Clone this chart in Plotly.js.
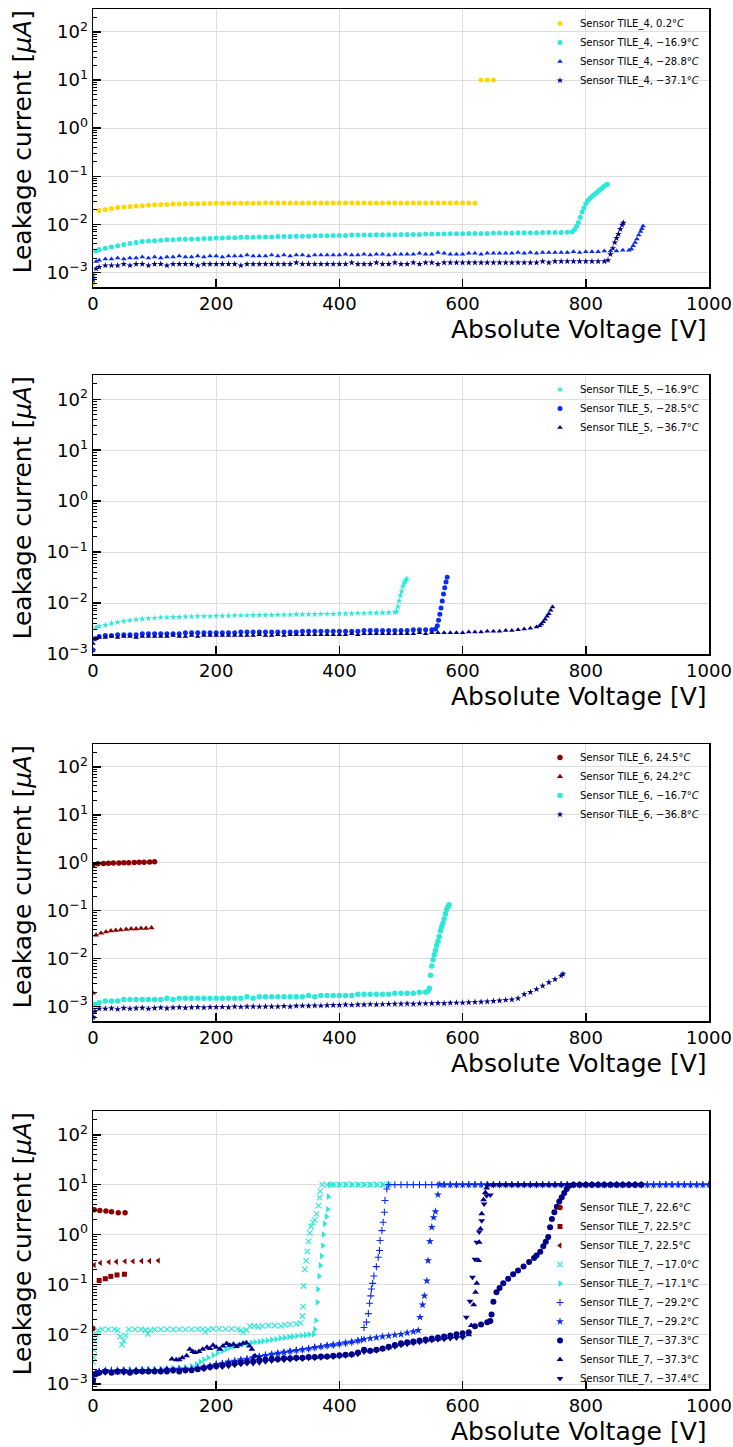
<!DOCTYPE html>
<html><head><meta charset="utf-8">
<script src="https://cdn.plot.ly/plotly-3.0.1.min.js"></script>
<style>html,body{margin:0;padding:0;background:#fff}#chart{width:733px;height:1447px}</style>
</head><body><div id="chart"></div>
<script>
// ---------------- tick labels ----------------
const xTickVals = [0,200,400,600,800,1000];
const xTickText = ['0','200','400','600','800','1000'];
const yTickVals = [0.001,0.01,0.1,1,10,100];
const yTickText = ['10<sup>\u22123</sup>','10<sup>\u22122</sup>','10<sup>\u22121</sup>','10<sup>0</sup>','10<sup>1</sup>','10<sup>2</sup>'];

// ---------------- panel 1 : TILE_4 ----------------
const t4a_v = [0,10,20,30,40,50,60,70,80,90,100,110,120,130,140,150,160,170,180,190,200,210,220,230,240,250,260,270,280,290,300,310,320,330,340,350,360,370,380,390,400,410,420,430,440,450,460,470,480,490,500,510,520,530,540,550,560,570,580,590,600,610,620,630,640,650];
const t4a_i = [0.0006,0.0195,0.0205,0.0215,0.0225,0.023,0.0235,0.024,0.0245,0.025,
0.0255,0.026,0.026,0.0265,0.0265,0.027,0.027,0.027,0.0272,0.0272,
0.0274,0.0274,0.0275,0.0275,0.0275,0.0276,0.0276,0.0276,0.0277,0.0277,
0.0277,0.0277,0.0278,0.0278,0.0278,0.0278,0.0278,0.0278,0.0279,0.0279,
0.0279,0.0279,0.0279,0.028,0.028,0.028,0.028,0.028,0.028,0.028,
0.028,0.028,0.028,0.028,0.028,0.028,0.028,0.028,0.028,0.028,
0.028,0.028,0.028,10,10,10];

const t4b_v = [0,5,10,20,30,40,50,60,70,80,90,
100,110,120,130,140,150,160,170,180,190,
200,210,220,230,240,250,260,270,280,290,
300,310,320,330,340,350,360,370,380,390,
400,410,420,430,440,450,460,470,480,490,
500,510,520,530,540,550,560,570,580,590,
600,610,620,630,640,650,660,670,680,690,
700,710,720,730,740,750,760,770,
778,782,785,788,791,794,797,800,803,806,809,812,815,818,821,824,827,830,833,835];
const t4b_i = [0.0009,0.0028,0.003,0.0032,0.0034,0.0036,0.0038,0.004,0.0042,0.0044,0.0045,
0.0046,0.0047,0.0048,0.0048,0.0049,0.0049,0.005,0.005,0.0051,0.0051,
0.0052,0.0052,0.0053,0.0053,0.0054,0.0054,0.0054,0.0055,0.0055,0.0055,
0.0056,0.0056,0.0056,0.0057,0.0057,0.0057,0.0058,0.0058,0.0058,0.0059,
0.0059,0.0059,0.006,0.006,0.006,0.006,0.0061,0.0061,0.0061,0.0061,
0.0062,0.0062,0.0062,0.0062,0.0063,0.0063,0.0063,0.0063,0.0064,0.0064,
0.0064,0.0065,0.0065,0.0065,0.0065,0.0066,0.0066,0.0066,0.0066,0.0067,
0.0067,0.0067,0.0067,0.0068,0.0068,0.0068,0.0068,0.0069,
0.007,0.0078,0.0092,0.011,0.014,0.018,0.022,0.027,0.031,0.034,0.037,0.04,0.043,0.046,0.05,0.054,0.058,0.062,0.066,0.068];

const t4c_v = [0,5,10,20,30,40,50,60,70,80,90,
100,110,120,130,140,150,160,170,180,190,
200,210,220,230,240,250,260,270,280,290,
300,310,320,330,340,350,360,370,380,390,
400,410,420,430,440,450,460,470,480,490,
500,510,520,530,540,550,560,570,580,590,
600,610,620,630,640,650,660,670,680,690,
700,710,720,730,740,750,760,770,780,790,
800,810,820,830,840,850,860,870,
874,877,880,883,886,889,891,893];
const t4c_i = [0.0008,0.0017,0.0018,0.0019,0.0019,0.002,0.0019,0.002,0.002,0.0021,0.002,
0.0021,0.002,0.0021,0.0021,0.0022,0.0021,0.0021,0.0022,0.0021,0.0022,
0.0022,0.0021,0.0022,0.0022,0.0022,0.0023,0.0022,0.0022,0.0022,0.0023,
0.0022,0.0023,0.0022,0.0023,0.0023,0.0022,0.0023,0.0023,0.0023,0.0023,
0.0023,0.0024,0.0023,0.0023,0.0024,0.0023,0.0024,0.0024,0.0023,0.0024,
0.0024,0.0024,0.0024,0.0025,0.0024,0.0024,0.0026,0.0025,0.0024,0.0024,
0.0024,0.0025,0.0025,0.0024,0.0025,0.0025,0.0025,0.0025,0.0025,0.0026,
0.0025,0.0026,0.0025,0.0026,0.0026,0.0026,0.0026,0.0026,0.0027,0.0026,
0.0027,0.0027,0.0027,0.0028,0.0028,0.0028,0.0029,0.0029,
0.0031,0.0036,0.0042,0.005,0.006,0.0071,0.0081,0.0093];

const t4d_v = [0,5,10,20,30,40,50,60,70,80,90,
100,110,120,130,140,150,160,170,180,190,
200,210,220,230,240,250,260,270,280,290,
300,310,320,330,340,350,360,370,380,390,
400,410,420,430,440,450,460,470,480,490,
500,510,520,530,540,550,560,570,580,590,
600,610,620,630,640,650,660,670,680,690,
700,710,720,730,740,750,760,770,780,790,
800,810,820,830,
836,840,844,847,850,853,856,859,861];
const t4d_i = [0.0007,0.0012,0.0013,0.0014,0.0014,0.0014,0.0015,0.0014,0.0015,0.0015,0.0014,
0.0015,0.0015,0.0014,0.0015,0.0015,0.0015,0.0015,0.0014,0.0015,0.0015,
0.0015,0.0015,0.0015,0.0015,0.0014,0.0015,0.0015,0.0015,0.0015,0.0015,
0.0015,0.0015,0.0015,0.0016,0.0015,0.0015,0.0015,0.0015,0.0015,0.0015,
0.0015,0.0015,0.0016,0.0015,0.0015,0.0015,0.0016,0.0015,0.0015,0.0016,
0.0015,0.0015,0.0016,0.0015,0.0016,0.0016,0.0015,0.0016,0.0016,0.0016,
0.0016,0.0016,0.0016,0.0016,0.0016,0.0016,0.0016,0.0016,0.0016,0.0016,
0.0016,0.0016,0.0016,0.0017,0.0016,0.0017,0.0017,0.0017,0.0017,0.0017,
0.0017,0.0017,0.0017,0.0017,
0.0018,0.0024,0.0032,0.0042,0.0052,0.0063,0.008,0.0098,0.0108];

// ---------------- panel 2 : TILE_5 ----------------
const t5a_v = [0,5,10,20,30,40,50,60,70,80,90,
100,110,120,130,140,150,160,170,180,190,
200,210,220,230,240,250,260,270,280,290,
300,310,320,330,340,350,360,370,380,390,
400,410,420,430,440,450,460,470,480,490,
493,495,497,499,501,503,505,507,509];
const t5a_i = [0.0012,0.0033,0.0035,0.0037,0.004,0.0042,0.0044,0.0046,0.0047,0.0049,0.005,
0.0051,0.0052,0.0052,0.0053,0.0053,0.0054,0.0054,0.0055,0.0055,0.0055,
0.0056,0.0056,0.0056,0.0057,0.0057,0.0057,0.0058,0.0058,0.0058,0.0058,
0.0059,0.0059,0.0059,0.006,0.006,0.006,0.006,0.0061,0.0061,0.0061,
0.0062,0.0062,0.0062,0.0063,0.0063,0.0064,0.0064,0.0065,0.0065,0.0066,
0.0068,0.0085,0.011,0.014,0.017,0.021,0.024,0.027,0.03];

const t5b_v = [0,3,10,20,30,40,50,60,70,80,90,
100,110,120,130,140,150,160,170,180,190,
200,210,220,230,240,250,260,270,280,290,
300,310,320,330,340,350,360,370,380,390,
400,410,420,430,440,450,460,470,480,490,
500,510,520,530,540,550,
556,559,561,563,565,567,569,571,573,575];
const t5b_i = [0.0012,0.002,0.0022,0.0023,0.0023,0.0024,0.0024,0.0024,0.0024,0.0025,0.0025,
0.0025,0.0025,0.0025,0.0025,0.0025,0.0026,0.0026,0.0026,0.0026,0.0026,
0.0026,0.0026,0.0026,0.0026,0.0027,0.0027,0.0027,0.0027,0.0027,0.0027,
0.0027,0.0027,0.0027,0.0027,0.0028,0.0028,0.0028,0.0028,0.0028,0.0028,
0.0028,0.0028,0.0028,0.0028,0.0029,0.0029,0.0029,0.0029,0.0029,0.0029,
0.0029,0.0029,0.003,0.003,0.003,0.003,
0.0031,0.0036,0.0046,0.006,0.008,0.011,0.015,0.02,0.026,0.032];

const t5c_v = [0,5,10,20,30,40,50,60,70,80,90,
100,110,120,130,140,150,160,170,180,190,
200,210,220,230,240,250,260,270,280,290,
300,310,320,330,340,350,360,370,380,390,
400,410,420,430,440,450,460,470,480,490,
500,510,520,530,540,550,560,570,580,590,
600,610,620,630,640,650,660,670,680,690,
700,710,720,
725,728,731,734,737,740,743,746];
const t5c_i = [0.0016,0.002,0.0021,0.0021,0.0022,0.0021,0.0022,0.0022,0.0021,0.0022,0.0022,
0.0022,0.0022,0.0022,0.0023,0.0022,0.0022,0.0023,0.0022,0.0023,0.0023,
0.0023,0.0023,0.0023,0.0023,0.0023,0.0023,0.0023,0.0024,0.0023,0.0023,
0.0024,0.0023,0.0024,0.0024,0.0024,0.0024,0.0024,0.0024,0.0024,0.0024,
0.0024,0.0024,0.0025,0.0024,0.0025,0.0025,0.0025,0.0025,0.0025,0.0025,
0.0025,0.0025,0.0025,0.0026,0.0025,0.0026,0.0026,0.0026,0.0026,0.0026,
0.0026,0.0027,0.0027,0.0027,0.0028,0.0028,0.0028,0.0029,0.0029,0.003,
0.0031,0.0032,0.0034,
0.0036,0.0039,0.0043,0.0048,0.0055,0.0062,0.0072,0.0084];

// ---------------- panel 3 : TILE_6 ----------------
const t6a_v = [0,8,17,25,33,42,50,58,67,75,83,92,100];
const t6a_i = [0.9,0.95,0.97,0.98,0.99,0.99,1.0,1.0,1.01,1.02,1.03,1.04,1.05];
const t6b_v = [0,5,13,21,29,37,45,54,62,70,78,86,95];
const t6b_i = [0.0019,0.031,0.034,0.036,0.038,0.039,0.04,0.041,0.042,0.042,0.043,0.043,0.044];

const t6c_v = [0,3,10,20,30,40,50,60,70,80,90,
100,110,120,130,140,150,160,170,180,190,
200,210,220,230,240,250,260,270,280,290,
300,310,320,330,340,350,360,370,380,390,
400,410,420,430,440,450,460,470,480,490,
500,510,520,530,540,
544,546,548,550,552,554,556,558,560,562,564,566,568,570,572,574,576,578];
const t6c_i = [0.0006,0.0011,0.0012,0.0013,0.0013,0.0013,0.0014,0.0014,0.0014,0.0014,0.0014,
0.0014,0.0014,0.0015,0.0014,0.0015,0.0015,0.0015,0.0015,0.0015,0.0015,
0.0015,0.0015,0.0015,0.0015,0.0015,0.0016,0.0015,0.0016,0.0016,0.0016,
0.0016,0.0016,0.0016,0.0016,0.0016,0.0017,0.0016,0.0017,0.0017,0.0017,
0.0017,0.0017,0.0017,0.0018,0.0018,0.0018,0.0018,0.0018,0.0018,0.0019,
0.0019,0.0019,0.0019,0.002,0.002,
0.0021,0.0024,0.0045,0.007,0.0095,0.012,0.015,0.019,0.023,0.029,0.038,0.046,0.055,0.067,0.085,0.105,0.12,0.133];

const t6d_v = [0,3,10,20,30,40,50,60,70,80,90,
100,110,120,130,140,150,160,170,180,190,
200,210,220,230,240,250,260,270,280,290,
300,310,320,330,340,350,360,370,380,390,
400,410,420,430,440,450,460,470,480,490,
500,510,520,530,540,550,560,570,580,590,
600,610,620,630,640,650,660,670,680,690,
700,710,720,730,740,750,760,763];
const t6d_i = [0.0006,0.0008,0.0009,0.0009,0.00092,0.00088,0.00093,0.0009,0.00092,0.00094,0.0009,
0.00093,0.00095,0.00092,0.00095,0.00096,0.00094,0.00096,0.00097,0.00095,0.00097,
0.00097,0.00098,0.00096,0.001,0.00098,0.001,0.001,0.00099,0.001,0.001,
0.001,0.00102,0.001,0.00103,0.00104,0.00103,0.00105,0.00104,0.00106,0.00107,
0.00107,0.0011,0.00108,0.0011,0.0011,0.00112,0.0011,0.00112,0.00113,0.00114,
0.00114,0.00115,0.00114,0.00116,0.00116,0.00117,0.00118,0.00117,0.00119,0.0012,
0.0012,0.00122,0.00124,0.00125,0.00127,0.0013,0.00133,0.00137,0.0014,0.00148,
0.0018,0.002,0.0023,0.0027,0.0032,0.0037,0.0044,0.0048];

// ---------------- panel 4 : TILE_7 ----------------
const t7a_v = [0,2,11,21,30,41,52];
const t7a_i = [0.013,3.15,3.05,2.95,2.85,2.75,2.72];
const t7b_v = [10,20,29,39,51];
const t7b_i = [0.12,0.13,0.145,0.155,0.16];
const t7c_v = [2,12,26,38,52,65,79,92,106];
const t7c_i = [0.245,0.27,0.28,0.285,0.29,0.29,0.295,0.295,0.3];

const t7d_v = [0,1,2,3,5,8,15,25,35,40,
44,47,50,53,58,68,78,85,89,93,
100,110,120,130,140,150,160,170,178,182,
187,195,205,215,225,235,240,244,249,255,
262,268,275,285,295,305,312,320,330,337,
340,341,342,344,346,348,350,352,354,357,
360,363,366,368,369,372,380,390,400,410,
420,430,440,450,460,470,480];
const t7d_i = [0.0028,0.0034,0.0048,0.0075,0.01,0.012,0.0125,0.0126,0.0126,0.012,
0.0091,0.0062,0.0075,0.0095,0.0125,0.0126,0.0126,0.0122,0.0102,0.012,
0.0126,0.0126,0.0126,0.0126,0.0126,0.0126,0.0126,0.0127,0.0125,0.0112,
0.0124,0.0128,0.0128,0.0129,0.0129,0.0127,0.012,0.011,0.0122,0.0145,
0.0148,0.014,0.0148,0.015,0.015,0.0148,0.0155,0.0158,0.0162,0.017,
0.023,0.036,0.093,0.2,0.3,0.46,0.73,1.08,1.45,1.75,
1.97,2.6,3.8,5.5,7.4,10,10,10,10,10,
10,10,10,10,10,10,10];

const t7e_v = [0,10,20,30,40,50,60,70,80,90,100,110,120,130,140,150,160,
168,174,180,187,195,202,210,216,222,229,
236,243,250,257,263,270,276,283,290,297,
304,311,318,324,331,338,345,351,358,
360,362,364,365,367,369,371,373,374,376,
379,381,382,384,
390,400,410,420,430,440,450,460,470,480];
const t7e_i = [0.0015,0.0017,0.0018,0.0018,0.0019,0.0019,0.0019,0.0019,0.002,0.002,0.002,0.002,0.002,0.0021,0.0021,0.0022,0.0023,
0.0025,0.0028,0.0031,0.0034,0.0038,0.0042,0.0046,0.005,0.0054,0.0057,
0.006,0.0063,0.0065,0.0068,0.007,0.0071,0.0073,0.0075,0.0078,0.008,
0.0083,0.0085,0.0088,0.009,0.0093,0.0095,0.0097,0.0099,0.01,
0.0126,0.019,0.044,0.08,0.146,0.24,0.37,0.6,1.0,1.65,
2.3,3.2,5.8,10,
10,10,10,10,10,10,10,10,10,10];

const t7f_v = [0,5,10,20,30,40,50,60,70,80,90,
100,110,120,130,140,150,160,170,180,190,
200,210,220,230,240,250,260,270,280,290,
300,310,320,330,340,350,360,370,380,390,
400,410,420,430,
436,440,444,447,449,451,452,454,456,460,463,465,466,469,471,473,474,477,
480,490,500,510,520,530,540,550,560,570,580,590,
600,610,620,630,640,650,660,670,680,690,
700,710,720,730,740,750,760,770,780,790,
800,810,820,830,840,850,860,870,880,890,
900,910,920,930,940,950,960,970,980,990,1000];
const t7f_i = [0.0013,0.0017,0.0018,0.0018,0.0019,0.0018,0.0019,0.0019,0.0018,0.0019,0.0019,
0.0019,0.0019,0.0019,0.0019,0.002,0.0019,0.002,0.0021,0.0022,0.0023,
0.0025,0.0026,0.0028,0.0029,0.003,0.0032,0.0034,0.0036,0.0038,0.0039,
0.0041,0.0043,0.0045,0.0047,0.0049,0.0051,0.0054,0.0056,0.0058,0.006,
0.0063,0.0066,0.0069,0.0073,
0.0078,0.0137,0.0175,0.026,0.042,0.059,0.081,0.105,0.147,0.227,0.35,0.48,0.76,1.2,1.76,2.8,4.8,8.2,
10,10,10,10,10,10,10,10,10,10,10,10,
10,10,10,10,10,10,10,10,10,10,
10,10,10,10,10,10,10,10,10,10,
10,10,10,10,10,10,10,10,10,10,
10,10,10,10,10,10,10,10,10,10,10];

const t7g_v = [0,5,10,20,30,40,50,60,70,80,90,
100,110,120,130,140,150,160,170,180,190,
200,210,220,230,240,250,260,270,280,290,
300,310,320,330,340,350,360,370,380,390,
400,410,420,430,440,450,460,470,480,490,
500,510,520,
528,531,535,538,542,544,547,550,553,556,560,563,
570,580,590,
600,610,620,630,640,650,660,670,680,690,
700,710,720,730,740,750,760,770,780,790,
800,810,820,830,840,850,860,870,880,890,
900,910,920,930,940,950,960,970,980,990,1000];
const t7g_i = [0.0014,0.0017,0.0018,0.0019,0.0018,0.0019,0.0019,0.0018,0.0019,0.0019,0.0019,
0.0019,0.0019,0.002,0.0019,0.002,0.002,0.002,0.0021,0.0022,0.0023,
0.0025,0.0026,0.0028,0.0029,0.0031,0.0032,0.0034,0.0036,0.0038,0.004,
0.0042,0.0044,0.0046,0.0048,0.005,0.0052,0.0055,0.0057,0.006,0.0062,
0.0065,0.0068,0.0071,0.0075,0.0079,0.0083,0.0086,0.009,0.0093,0.0097,
0.01,0.0107,0.0113,
0.012,0.022,0.039,0.059,0.118,0.3,0.73,1.4,2.2,2.9,6.3,10,
10,10,10,
10,10,10,10,10,10,10,10,10,10,
10,10,10,10,10,10,10,10,10,10,
10,10,10,10,10,10,10,10,10,10,
10,10,10,10,10,10,10,10,10,10,10];

const t7h_v = [0,5,10,20,30,40,50,60,70,80,90,
100,110,120,130,140,150,160,170,180,190,
200,210,220,230,240,250,260,270,280,290,
300,310,320,330,340,350,360,370,380,390,
400,410,420,430,440,450,460,470,480,490,
500,510,520,530,540,550,560,570,580,590,
600,610,620,630,640,
645,647,650,655,660,666,674,682,690,699,
708,716,720,726,731,735,739,742,745,749,
753,757,761,765,769,773,
780,790,800,810,820,830,840,850,860,870,880,890];
const t7h_i = [0.0012,0.0016,0.0017,0.0018,0.0017,0.0018,0.0018,0.0017,0.0018,0.0018,0.0018,
0.0018,0.0018,0.0018,0.0019,0.0018,0.0019,0.0019,0.002,0.0021,0.0022,
0.0023,0.0024,0.0025,0.0026,0.0027,0.0028,0.0029,0.003,0.0031,0.0032,
0.0032,0.0033,0.0033,0.0034,0.0034,0.0035,0.0035,0.0036,0.0036,0.0037,
0.0038,0.0039,0.004,0.0043,0.0049,0.0047,0.0049,0.0052,0.0056,0.0061,
0.0066,0.0069,0.0072,0.0075,0.0079,0.0082,0.0086,0.009,0.0095,0.01,
0.0105,0.011,0.0145,0.0158,0.0175,
0.0185,0.025,0.045,0.07,0.085,0.105,0.13,0.16,0.19,0.23,
0.28,0.34,0.38,0.45,0.58,0.72,0.89,1.4,2.05,2.8,
3.6,4.6,5.6,6.8,8.2,9.5,
10,10,10,10,10,10,10,10,10,10,10,10];

const t7i_v = [0,5,10,20,30,40,50,60,70,80,90,100,110,120,
128,135,140,145,152,157,162,166,172,178,
185,190,195,200,206,211,217,222,228,233,
238,244,249,254,258,263,
270,280,290,300,310,320,330,340,350,360,370,380,390,400,410,420,430,440,450,460,470,480,490,500,510,520,530,540,550,560,570,580,590,600,610,
614,618,621,623,626,627,629,631,634,637,639,641,
650,660,670,680,690,700,710,720,730,740,750,760,770,780,790,800,810,820,830,840,850,860,870,880,890];
const t7i_i = [0.0011,0.0016,0.0017,0.0018,0.0018,0.0017,0.0018,0.0018,0.0019,0.0018,0.0018,0.0019,0.0019,0.002,
0.0032,0.0031,0.0031,0.0034,0.0037,0.005,0.0045,0.0043,0.0045,0.005,
0.0055,0.0052,0.006,0.0055,0.005,0.0058,0.0065,0.006,0.0063,0.0057,
0.0062,0.0066,0.0068,0.0058,0.005,0.0037,
0.0033,0.0032,0.0032,0.0032,0.0033,0.0033,0.0033,0.0034,0.0034,0.0035,0.0035,0.0036,0.0036,0.0037,0.0038,0.0039,0.0042,0.0047,0.0046,0.0048,0.005,0.0054,0.0058,0.0062,0.0065,0.0068,0.0071,0.0074,0.0077,0.008,0.0083,0.0086,0.009,0.0094,0.0098,
0.015,0.039,0.07,0.105,0.3,0.7,1.3,2.6,5.0,7.0,8.6,10,
10,10,10,10,10,10,10,10,10,10,10,10,10,10,10,10,10,10,10,10,10,10,10,10,10];

const t7j_v = [0,5,10,20,30,40,50,60,70,80,90,
100,110,120,130,140,150,160,170,180,190,
200,210,220,230,240,250,260,270,280,290,
300,310,320,330,340,350,360,370,380,390,
400,410,420,430,440,450,460,470,480,490,
500,510,520,530,540,550,560,570,580,590,
600,
606,612,616,620,623,627,631,635,639,645,
650,660,670,680,690,700,710,720,730,740,750,760,770,780,790,800,810,820,830,840,850,860,870,880,890];
const t7j_i = [0.0012,0.0016,0.0017,0.0017,0.0018,0.0018,0.0017,0.0018,0.0018,0.0018,0.0018,
0.0018,0.0018,0.0018,0.0019,0.0019,0.0019,0.0019,0.002,0.002,0.0021,
0.0022,0.0022,0.0023,0.0024,0.0025,0.0026,0.0026,0.0027,0.0028,0.0029,
0.003,0.003,0.0031,0.0032,0.0032,0.0033,0.0033,0.0034,0.0035,0.0035,
0.0036,0.0037,0.0038,0.004,0.0044,0.0045,0.0047,0.005,0.0053,0.0056,
0.006,0.0063,0.0066,0.0069,0.0072,0.0075,0.0078,0.008,0.0082,0.0084,
0.0086,
0.022,0.046,0.14,0.32,0.7,1.12,1.9,4.1,6.0,6.2,
10,10,10,10,10,10,10,10,10,10,10,10,10,10,10,10,10,10,10,10,10,10,10,10,10];

// ---------------- styling ----------------
const FONT = 'DejaVu Sans';
const C_GOLD = '#FFD700', C_CYAN = '#2BE8DA', C_BLUE = '#0A2AF5', C_NAVY = '#000088', C_DRED = '#8B0000';
const L = 93, R = 24, T = 9, B = 58, W = 733, H = 1447;
const PW = W - L - R, PH = H - T - B, BOT = H - B;
const panels = [[9, 287], [375, 654], [744, 1021], [1111, 1389]];
const dom = panels.map(p => [(BOT - p[1]) / PH, (BOT - p[0]) / PH]);
const yRanges = [[Math.log10(5e-4), Math.log10(300)], [-3, Math.log10(300)], [Math.log10(5e-4), Math.log10(300)], [Math.log10(8e-4), Math.log10(300)]];

const minorVals = [];
for (let e = -4; e <= 2; e++) for (let m = 2; m <= 9; m++) minorVals.push(m * Math.pow(10, e));

function S(k, v, i, name, sym, color, size, thin) {
  const sfx = k === 1 ? '' : String(k);
  const mk = {symbol: sym, color: color, size: size, line: {width: 0}};
  if (thin) mk.line = {width: 1.1, color: color};
  return {type: 'scatter', mode: 'markers', x: v, y: i, name: name, xaxis: 'x' + sfx, yaxis: 'y' + sfx,
          legend: 'legend' + sfx, marker: mk, cliponaxis: true, hoverinfo: 'skip'};
}
const deg = '\u00b0<i>C</i>', M = '\u2212';
const traces = [
  S(1, t4a_v, t4a_i, 'Sensor TILE_4, 0.2' + deg, 'circle', C_GOLD, 5),
  S(1, t4b_v, t4b_i, 'Sensor TILE_4, ' + M + '16.9' + deg, 'circle', C_CYAN, 5),
  S(1, t4c_v, t4c_i, 'Sensor TILE_4, ' + M + '28.8' + deg, 'triangle-up', C_BLUE, 5),
  S(1, t4d_v, t4d_i, 'Sensor TILE_4, ' + M + '37.1' + deg, 'star', C_NAVY, 5),
  S(2, t5a_v, t5a_i, 'Sensor TILE_5, ' + M + '16.9' + deg, 'star', C_CYAN, 5),
  S(2, t5b_v, t5b_i, 'Sensor TILE_5, ' + M + '28.5' + deg, 'circle', C_BLUE, 5),
  S(2, t5c_v, t5c_i, 'Sensor TILE_5, ' + M + '36.7' + deg, 'triangle-up', C_NAVY, 5),
  S(3, t6a_v, t6a_i, 'Sensor TILE_6, 24.5' + deg, 'circle', C_DRED, 5.5),
  S(3, t6b_v, t6b_i, 'Sensor TILE_6, 24.2' + deg, 'triangle-up', C_DRED, 5.5),
  S(3, t6c_v, t6c_i, 'Sensor TILE_6, ' + M + '16.7' + deg, 'circle', C_CYAN, 5.5),
  S(3, t6d_v, t6d_i, 'Sensor TILE_6, ' + M + '36.8' + deg, 'star', C_NAVY, 5),
  S(4, t7a_v, t7a_i, 'Sensor TILE_7, 22.6' + deg, 'circle', C_DRED, 5.5),
  S(4, t7b_v, t7b_i, 'Sensor TILE_7, 22.5' + deg, 'square', C_DRED, 5),
  S(4, t7c_v, t7c_i, 'Sensor TILE_7, 22.5' + deg, 'triangle-left', C_DRED, 5.5),
  S(4, t7d_v, t7d_i, 'Sensor TILE_7, ' + M + '17.0' + deg, 'x-thin', C_CYAN, 5.5, true),
  S(4, t7e_v, t7e_i, 'Sensor TILE_7, ' + M + '17.1' + deg, 'triangle-right', C_CYAN, 6),
  S(4, t7f_v, t7f_i, 'Sensor TILE_7, ' + M + '29.2' + deg, 'cross-thin', C_BLUE, 5, true),
  S(4, t7g_v, t7g_i, 'Sensor TILE_7, ' + M + '29.2' + deg, 'star', C_BLUE, 6),
  S(4, t7h_v, t7h_i, 'Sensor TILE_7, ' + M + '37.3' + deg, 'circle', C_NAVY, 6),
  S(4, t7i_v, t7i_i, 'Sensor TILE_7, ' + M + '37.3' + deg, 'triangle-up', C_NAVY, 6),
  S(4, t7j_v, t7j_i, 'Sensor TILE_7, ' + M + '37.4' + deg, 'triangle-down', C_NAVY, 6)
];

const layout = {
  width: W, height: H, margin: {l: L, r: R, t: T, b: B, pad: 0},
  paper_bgcolor: 'white', plot_bgcolor: 'white',
  font: {family: FONT, color: 'black', size: 18},
  hovermode: false, showlegend: true, annotations: []
};
const legTops = [9, 375, 743, 1193];
for (let k = 1; k <= 4; k++) {
  const sfx = k === 1 ? '' : String(k);
  layout['xaxis' + sfx] = {
    anchor: 'y' + sfx, domain: [0, 1], range: [0, 1000], tickmode: 'array', tickvals: xTickVals, ticktext: xTickText,
    ticks: 'inside', ticklen: 8, tickwidth: 1.5, tickcolor: 'black', showline: true, linecolor: 'black', linewidth: 1.5,
    mirror: true, showgrid: true, gridcolor: '#dedede', gridwidth: 1, zeroline: false, tickfont: {family: FONT, size: 18, color: 'black'}
  };
  layout['yaxis' + sfx] = {
    anchor: 'x' + sfx, domain: dom[k - 1], type: 'log', range: yRanges[k - 1], tickmode: 'array', tickvals: yTickVals, ticktext: yTickText,
    ticks: 'inside', ticklen: 8, tickwidth: 1.5, tickcolor: 'black', showline: true, linecolor: 'black', linewidth: 1.5,
    mirror: true, showgrid: true, gridcolor: '#dedede', gridwidth: 1, zeroline: false, tickfont: {family: FONT, size: 18, color: 'black'},
    minor: {tickmode: 'array', tickvals: minorVals, ticks: 'inside', ticklen: 4, tickwidth: 1, tickcolor: 'black', showgrid: false}
  };
  layout['legend' + sfx] = {
    x: (540 - L) / PW, y: (BOT - legTops[k - 1]) / PH, xanchor: 'left', yanchor: 'top', xref: 'paper', yref: 'paper',
    bgcolor: 'rgba(0,0,0,0)', borderwidth: 0, font: {family: FONT, size: 10, color: 'black'}, itemsizing: 'trace', tracegroupgap: 0
  };
  layout.annotations.push({
    text: 'Absolute Voltage [V]', xref: 'paper', yref: 'paper', x: 1, y: dom[k - 1][0], xanchor: 'right', yanchor: 'top',
    yshift: -26, showarrow: false, font: {family: FONT, size: 25, color: 'black'}
  });
  layout.annotations.push({
    text: 'Leakage current [<i>\u03bcA</i>]', xref: 'paper', yref: 'paper', x: (22 - L) / PW, y: dom[k - 1][1], xanchor: 'center', yanchor: 'top',
    textangle: -90, showarrow: false, font: {family: FONT, size: 25, color: 'black'}
  });
}
Plotly.newPlot('chart', traces, layout, {staticPlot: true, displayModeBar: false});
</script></body></html>
